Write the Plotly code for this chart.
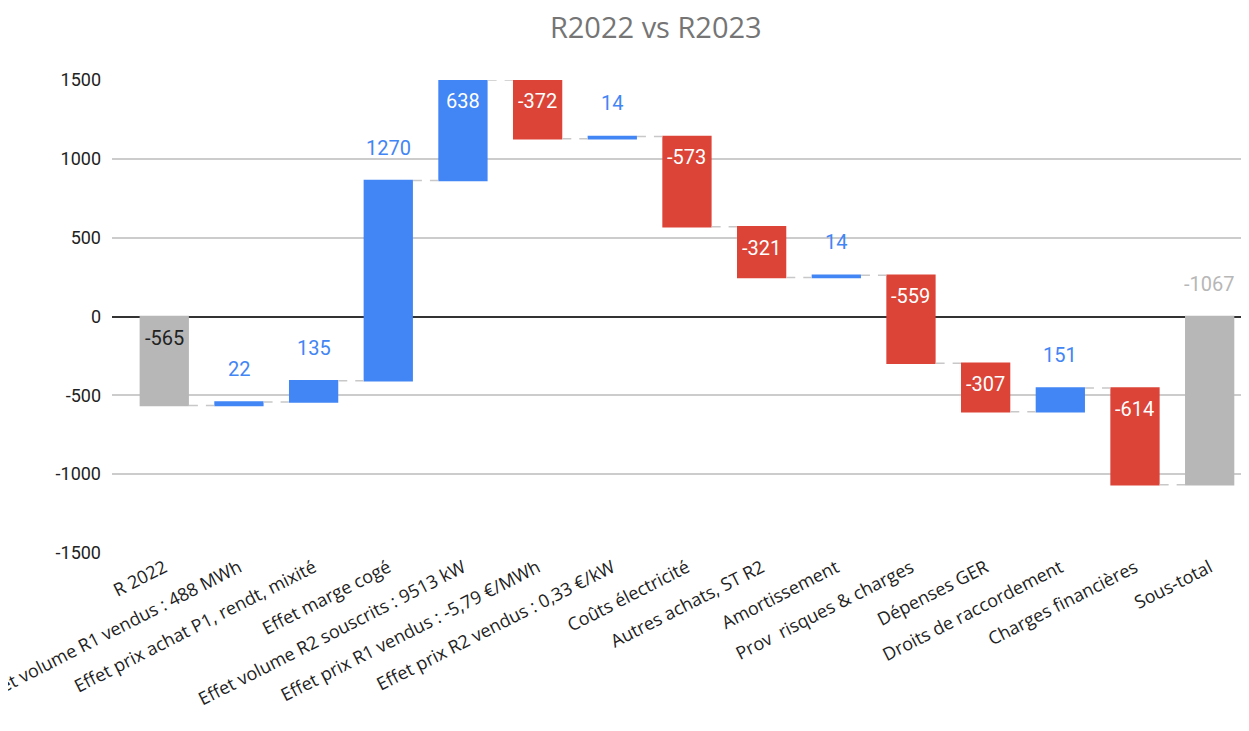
import plotly.graph_objects as go

categories = [
    "R 2022",
    "Effet volume R1 vendus : 488 MWh",
    "Effet prix achat P1, rendt, mixité",
    "Effet marge cogé",
    "Effet volume R2 souscrits : 9513 kW",
    "Effet prix R1 vendus : -5,79 €/MWh",
    "Effet prix R2 vendus : 0,33 €/kW",
    "Coûts électricité",
    "Autres achats, ST R2",
    "Amortissement",
    "Prov  risques & charges",
    "Dépenses GER",
    "Droits de raccordement",
    "Charges financières",
    "Sous-total",
]
values = [-565, 22, 135, 1270, 638, -372, 14, -573, -321, 14, -559, -307, 151, -614, -1067]
measures = ["absolute"] + ["relative"] * 13 + ["total"]
y_ticks = [-1500, -1000, -500, 0, 500, 1000, 1500]
y_tick_text = ["-1500", "-1000", "-500", "0", "500", "1000", "1500"]

BLUE = "#4285F4"
RED = "#DB4437"
GREY = "#B7B7B7"

fig = go.Figure()
fig.add_trace(go.Waterfall(
    x=list(range(len(categories))),
    y=values,
    measure=measures,
    increasing=dict(marker=dict(color=BLUE)),
    decreasing=dict(marker=dict(color=RED)),
    totals=dict(marker=dict(color=GREY)),
    connector=dict(mode="between", line=dict(color="#C8C8C8", width=1.5, dash="9px,8px")),
    width=0.66,
    cliponaxis=True,
    hoverinfo="skip",
))

run = 0
annotations = []
for i, (v, m) in enumerate(zip(values, measures)):
    if m == "absolute":
        lo, hi = min(0, v), max(0, v)
        run = v
        kind = "first"
    elif m == "total":
        lo, hi = min(0, run), max(0, run)
        kind = "total"
    else:
        start = run
        run = run + v
        lo, hi = min(start, run), max(start, run)
        kind = "inc" if v > 0 else "dec"
    top = min(hi, 1500)
    label = str(v)
    if kind == "inc" and hi < 1450:
        color, anchor, shift = BLUE, "bottom", 19
    elif kind in ("inc", "dec"):
        color, anchor, shift = "white", "top", -7
    elif kind == "first":
        color, anchor, shift = "#222222", "top", -7
    else:
        color, anchor, shift = GREY, "bottom", 19
    annotations.append(dict(x=i, y=top, text=label, showarrow=False, yanchor=anchor, yshift=shift,
                            font=dict(color=color, size=20, family="Roboto")))

fig.update_layout(
    width=1241, height=723,
    paper_bgcolor="white", plot_bgcolor="white",
    margin=dict(l=104, r=2, t=72, b=178, autoexpand=False),
    title=dict(text="R2022 vs R2023", x=0.522, xref="container", xanchor="center",
               y=0.9725, yref="container", yanchor="middle",
               font=dict(family="Open Sans", size=29, color="#757575")),
    showlegend=False,
    annotations=annotations,
)
fig.update_xaxes(
    tickmode="array", tickvals=list(range(len(categories))), ticktext=categories,
    tickangle=-27, range=[-0.7, 14.5], showgrid=False, showline=False, zeroline=False,
    automargin=False, ticklabeloverflow="allow",
    tickfont=dict(family="Open Sans", size=18, color="#222222"),
)
fig.update_yaxes(
    range=[-1500, 1500], tickmode="array", tickvals=y_ticks, ticktext=y_tick_text,
    showgrid=True, gridcolor="#CCCCCC", gridwidth=1.5,
    zeroline=True, zerolinecolor="#333333", zerolinewidth=1.5,
    showline=False, ticklabelstandoff=10, automargin=False,
    tickfont=dict(family="Roboto", size=18, color="#222222"),
)

fig.write_html("out.html")
